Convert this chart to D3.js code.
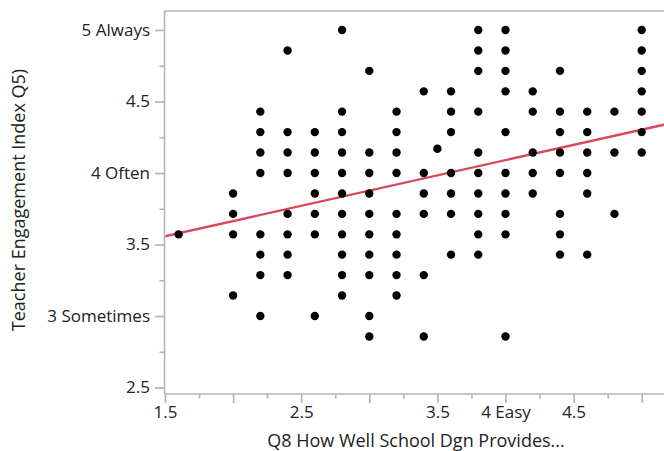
<!DOCTYPE html>
<html>
<head>
<meta charset="utf-8">
<script src="https://cdn.jsdelivr.net/npm/d3@7"></script>
<style>
  html, body { margin: 0; padding: 0; background: #fff; }
  svg { display: block; }
  text { font-family: "Open Sans", "Noto Sans", sans-serif; fill: #222; }
</style>
</head>
<body>
<svg id="chart" width="664" height="451"></svg>
<script>
// Q8 response levels (x) and the Q5 engagement index values observed at each level (y)
const q8Levels = [1.6, 2.0, 2.2, 2.4, 2.6, 2.8, 3.0, 3.2, 3.4, 3.5, 3.6, 3.8, 4.0, 4.2, 4.4, 4.6, 4.8, 5.0];
const q5ByLevel = [
  [3.571],
  [3.857, 3.714, 3.571, 3.143],
  [4.429, 4.286, 4.143, 4.0, 3.571, 3.429, 3.286, 3.0],
  [4.857, 4.286, 4.143, 4.0, 3.714, 3.571, 3.429, 3.286],
  [4.286, 4.143, 4.0, 3.857, 3.714, 3.571, 3.0],
  [5.0, 4.429, 4.286, 4.143, 4.0, 3.857, 3.714, 3.571, 3.429, 3.286, 3.143],
  [4.714, 4.143, 4.0, 3.857, 3.714, 3.571, 3.429, 3.286, 3.0, 2.857],
  [4.429, 4.286, 4.143, 4.0, 3.714, 3.571, 3.429, 3.286, 3.143],
  [4.571, 4.0, 3.857, 3.714, 3.286, 2.857],
  [4.17],
  [4.571, 4.429, 4.286, 4.0, 3.857, 3.714, 3.429],
  [5.0, 4.857, 4.714, 4.429, 4.143, 4.0, 3.857, 3.714, 3.571, 3.429],
  [5.0, 4.857, 4.714, 4.571, 4.286, 4.0, 3.857, 3.714, 3.571, 2.857],
  [4.571, 4.429, 4.143, 4.0, 3.857],
  [4.714, 4.429, 4.286, 4.143, 4.0, 3.714, 3.571, 3.429],
  [4.429, 4.286, 4.143, 4.0, 3.857, 3.429],
  [4.429, 4.143, 3.714],
  [5.0, 4.857, 4.714, 4.571, 4.429, 4.286, 4.143]
];

// Linear fit of Q5 on Q8
const fitIntercept = 3.238;
const fitSlope = 0.213;

// Axis ticks and their labels
const xMajorTicks = [1.5, 2, 2.5, 3, 3.5, 4, 4.5, 5];
const xMinorTicks = [1.75, 2.25, 2.75, 3.25, 3.75, 4.25, 4.75, 5.25];
const xTickLabels = { 1.5: "1.5", 2.5: "2.5", 3.5: "3.5", 4: "4 Easy", 4.5: "4.5" };
const yMajorTicks = [2.5, 3, 3.5, 4, 4.5, 5];
const yMinorTicks = [2.75, 3.25, 3.75, 4.25, 4.75];
const yTickLabels = { 2.5: "2.5", 3: "3 Sometimes", 3.5: "3.5", 4: "4 Often", 4.5: "4.5", 5: "5 Always" };

const xTitle = "Q8 How Well School Dgn Provides...";
const yTitle = "Teacher Engagement Index Q5)";

const points = [];
q8Levels.forEach((lv, i) => q5ByLevel[i].forEach(v => points.push({ x: lv, y: v })));

const svg = d3.select("#chart");
const W = 664;
const frame = { left: 164.5, top: 11, bottom: 394 };
const tickFont = 17;
const titleFont = 18;

const x = d3.scaleLinear().domain([1.5, 5]).range([165, 641.7]);
const y = d3.scaleLinear().domain([2.5, 5]).range([387.5, 30]);

const axisColor = "#b3b3b3";

// top frame line
svg.append("line")
  .attr("x1", frame.left).attr("x2", W)
  .attr("y1", frame.top).attr("y2", frame.top)
  .attr("stroke", axisColor).attr("stroke-width", 1.6);

// y axis: minor then major ticks
const yMinor = svg.append("g").attr("transform", `translate(${frame.left},0)`)
  .call(d3.axisLeft(y).tickValues(yMinorTicks).tickSize(5).tickFormat(""));
const yMajor = svg.append("g").attr("transform", `translate(${frame.left},0)`)
  .call(d3.axisLeft(y).tickValues(yMajorTicks).tickSize(9.5).tickPadding(5)
    .tickFormat(d => yTickLabels[d] || ""));

// x axis: minor then major ticks
const xMinor = svg.append("g").attr("transform", `translate(0,${frame.bottom})`)
  .call(d3.axisBottom(x).tickValues(xMinorTicks).tickSize(4.5).tickFormat(""));
const xMajor = svg.append("g").attr("transform", `translate(0,${frame.bottom})`)
  .call(d3.axisBottom(x).tickValues(xMajorTicks).tickSize(9).tickPadding(3)
    .tickFormat(d => xTickLabels[d] || ""));

[yMinor, yMajor, xMinor, xMajor].forEach(g => {
  g.select(".domain").remove();
  g.selectAll(".tick line").attr("stroke", axisColor).attr("stroke-width", 1.6);
  g.selectAll(".tick text").attr("font-size", tickFont).attr("fill", "#222")
    .style("font-family", "'Open Sans', 'Noto Sans', sans-serif");
});

// axis lines
svg.append("line")
  .attr("x1", frame.left).attr("x2", frame.left)
  .attr("y1", frame.top).attr("y2", frame.bottom)
  .attr("stroke", axisColor).attr("stroke-width", 1.6);
svg.append("line")
  .attr("x1", frame.left).attr("x2", W)
  .attr("y1", frame.bottom).attr("y2", frame.bottom)
  .attr("stroke", axisColor).attr("stroke-width", 1.6);

// plot area clip
svg.append("clipPath").attr("id", "plotClip")
  .append("rect")
  .attr("x", frame.left + 1).attr("y", frame.top + 1)
  .attr("width", W - frame.left).attr("height", frame.bottom - frame.top - 2);

const plot = svg.append("g").attr("clip-path", "url(#plotClip)");

// fitted line
const xEnds = [x.invert(frame.left), x.invert(W)];
plot.append("line")
  .attr("x1", x(xEnds[0])).attr("y1", y(fitIntercept + fitSlope * xEnds[0]))
  .attr("x2", x(xEnds[1])).attr("y2", y(fitIntercept + fitSlope * xEnds[1]))
  .attr("stroke", "#d9475b").attr("stroke-width", 2.4);

// points
plot.selectAll("circle").data(points).join("circle")
  .attr("cx", d => x(d.x)).attr("cy", d => y(d.y))
  .attr("r", 4.2).attr("fill", "#000");

// axis titles
svg.append("text")
  .attr("x", 416).attr("y", 447)
  .attr("text-anchor", "middle").attr("font-size", titleFont)
  .text(xTitle);
svg.append("text")
  .attr("transform", "translate(25,200) rotate(-90)")
  .attr("text-anchor", "middle").attr("font-size", titleFont)
  .text(yTitle);
</script>
</body>
</html>
